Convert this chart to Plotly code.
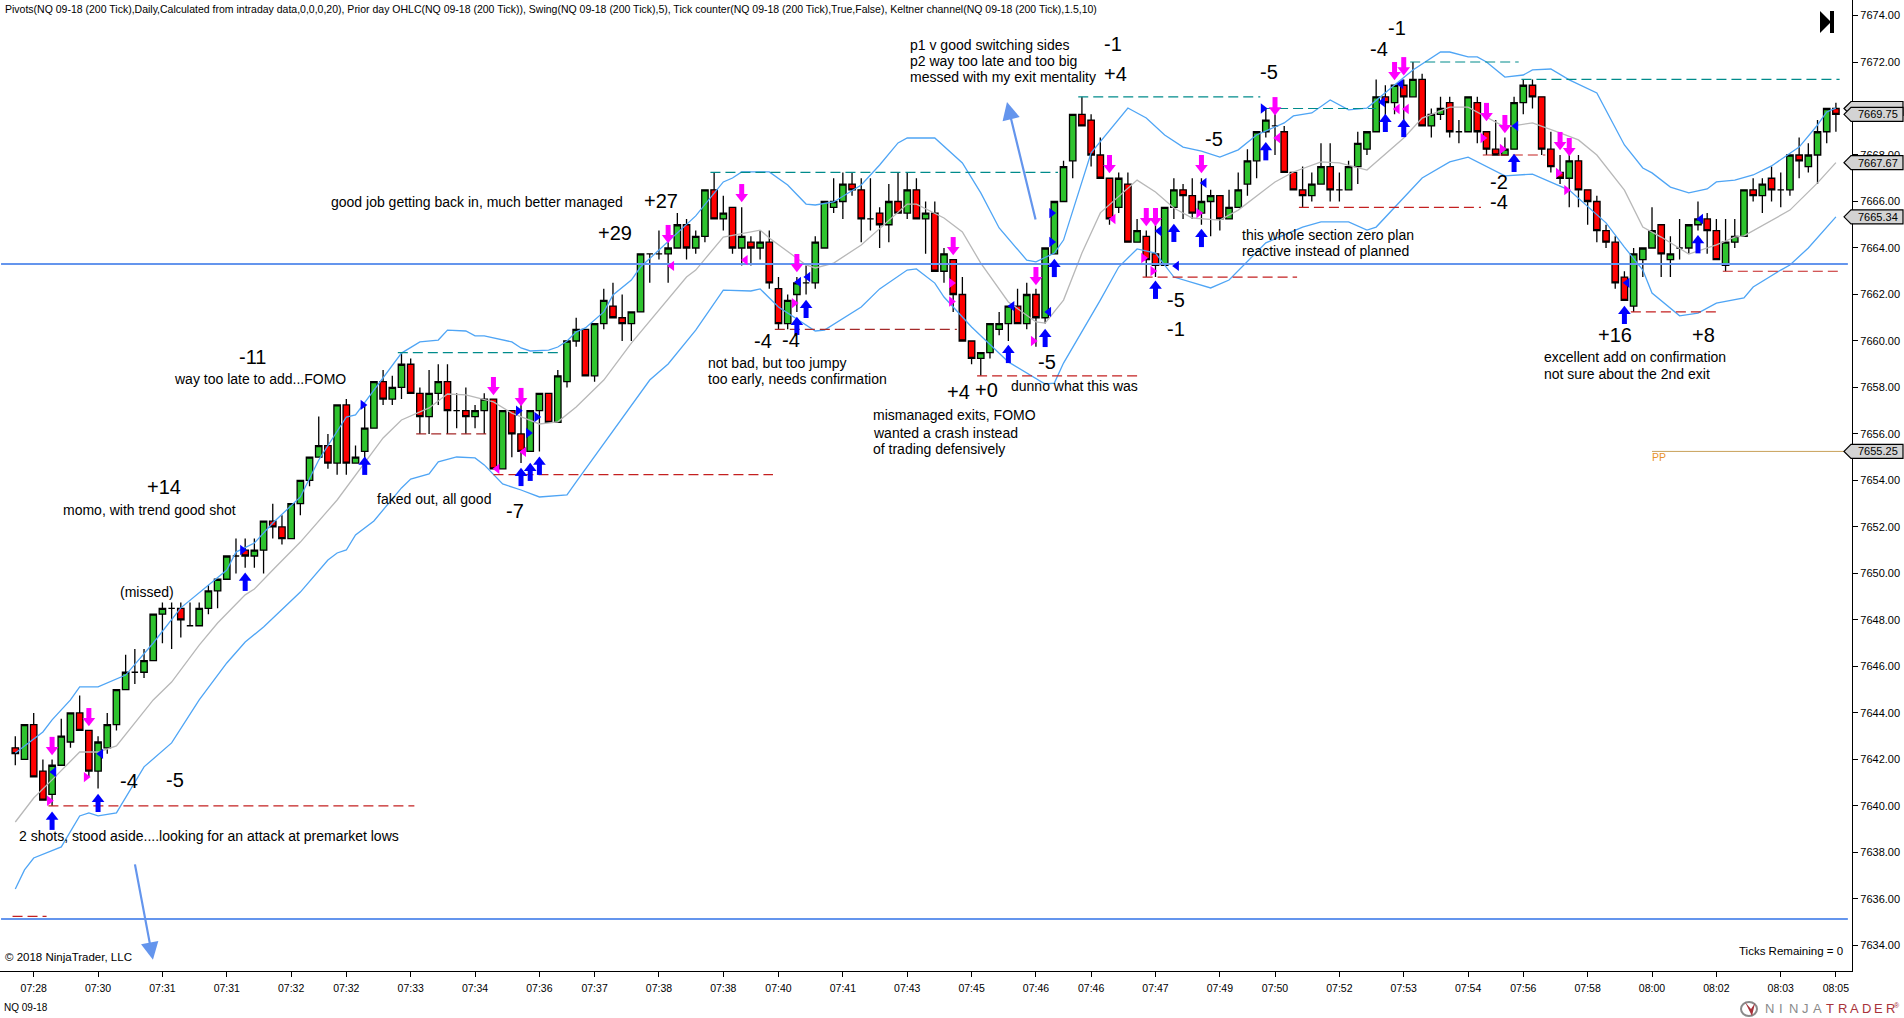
import plotly.graph_objects as go

# NQ 09-18 200 tick bars
opens = [7642.5, 7642, 7643.5, 7641.5, 7640.5, 7641.75, 7642.75, 7644, 7643.25, 7641.5,
         7642.5, 7643.5, 7645, 7645.75, 7645.75, 7646.25, 7648.25, 7648.5, 7648.5, 7647.75,
         7647.75, 7648.5, 7649.25, 7649.75, 7650.75, 7651, 7650.75, 7651, 7652.25, 7652,
         7651.5, 7653, 7654, 7655, 7655.5, 7654.75, 7657.25, 7654.75, 7655.25, 7656.25,
         7658.25, 7657.5, 7658, 7659, 7657.75, 7656.75, 7657.75, 7658.25, 7657, 7657,
         7656.75, 7657, 7657.5, 7654.5, 7657, 7656, 7655.25, 7657, 7657.75, 7656.5,
         7658.25, 7660, 7660.5, 7658.5, 7660.75, 7661.5, 7661, 7660.75, 7661.25, 7663.75,
         7663.75, 7663.75, 7664, 7665, 7664, 7664.5, 7666.5, 7665.25, 7665.75, 7664,
         7664.25, 7664, 7664.25, 7662.25, 7660.75, 7662, 7662.5, 7662.5, 7664, 7665.75,
         7666, 7666.75, 7666.5, 7665.25, 7665.5, 7665, 7666, 7665.5, 7666.5, 7665.25,
         7665.5, 7663, 7663.5, 7662, 7660, 7659.25, 7659.5, 7660.5, 7660.75, 7661.5,
         7660.75, 7662, 7661, 7663.75, 7666, 7667.75, 7669.75, 7669.5, 7668, 7667,
         7665.75, 7666.75, 7664.25, 7664.5, 7663.75, 7663.25, 7665.75, 7666.5, 7666.25, 7665.5,
         7666, 7666.25, 7665.25, 7665.75, 7666.75, 7667.75, 7669, 7669.25, 7669, 7667.25,
         7666.5, 7666.25, 7666.75, 7667.5, 7666.5, 7666.5, 7667.5, 7668.25, 7669, 7670.5,
         7670.25, 7671, 7670.5, 7671.25, 7669.25, 7669.75, 7670.25, 7669, 7669, 7670.25,
         7669, 7668.25, 7668, 7668.25, 7670.25, 7671, 7670.5, 7668.25, 7667.25, 7667,
         7667.75, 7666.5, 7666, 7664.75, 7664.25, 7662.75, 7661.5, 7663.5, 7664, 7665,
         7663.5, 7664, 7664, 7665, 7665.25, 7664.75, 7663.25, 7664.25, 7664.5, 7666.5,
         7666.25, 7667, 7666.5, 7666.5, 7668, 7667.5, 7668, 7669, 7670]
highs = [7643, 7643.5, 7644, 7642, 7642, 7643.75, 7644, 7644.75, 7643.25, 7643,
         7644, 7645, 7646.5, 7646.75, 7646.75, 7648.25, 7648.75, 7648.75, 7648.75, 7648.75,
         7648.75, 7649.5, 7649.75, 7650.75, 7651.5, 7651.5, 7651.5, 7652.25, 7653, 7652.5,
         7653, 7654, 7655, 7656.75, 7656, 7657.25, 7657.5, 7655.5, 7657.25, 7658.25,
         7658.75, 7658.5, 7659.5, 7659.25, 7658, 7658.75, 7659, 7659, 7657.75, 7658,
         7657.25, 7657.75, 7657.5, 7657, 7657, 7657.25, 7657, 7657.75, 7657.75, 7658.75,
         7660, 7661, 7660.5, 7660.75, 7662.25, 7662.5, 7662, 7661.25, 7663.75, 7663.75,
         7664.75, 7664.75, 7665.5, 7665.25, 7664.75, 7666.5, 7667.25, 7666.25, 7665.75, 7665.75,
         7664.5, 7664.75, 7664.75, 7662.75, 7662, 7662.75, 7663.25, 7664.5, 7666, 7667,
         7667.25, 7667.25, 7667, 7667, 7665.75, 7666.75, 7667.25, 7667.25, 7667, 7666,
         7666, 7664, 7663.5, 7662.75, 7660, 7659.5, 7660.75, 7661.25, 7661.5, 7662.25,
         7662.5, 7662.25, 7664, 7666, 7667.75, 7669.75, 7670.5, 7669.75, 7668.75, 7667,
         7667.25, 7667.25, 7665.25, 7664.75, 7665, 7665.75, 7667, 7666.75, 7667, 7667,
         7666.5, 7666.25, 7666.5, 7667.25, 7668.25, 7669, 7670, 7669.75, 7669.25, 7667.25,
         7667.5, 7667.25, 7668.5, 7668.5, 7667.25, 7667.75, 7669, 7669, 7671.25, 7671,
         7671, 7671.25, 7672, 7671.5, 7670, 7670.5, 7670.5, 7669.5, 7670.5, 7670.5,
         7669, 7669.5, 7668.75, 7670.5, 7671.25, 7671.25, 7670.5, 7669, 7668, 7668,
         7668, 7666.5, 7666.25, 7665, 7664.5, 7663, 7664, 7664, 7665.75, 7665,
         7664.5, 7665.25, 7665, 7666, 7665.5, 7665.25, 7665.25, 7665.25, 7666.5, 7667,
         7667, 7667.5, 7667.25, 7668, 7668.75, 7668.5, 7669.5, 7670, 7670.25]
lows = [7641.75, 7642, 7641.25, 7640.25, 7640, 7641.75, 7642.5, 7643.25, 7641.25, 7640.75,
        7642.25, 7643.25, 7645, 7645.25, 7645.5, 7646.25, 7647, 7646.75, 7647.25, 7647.75,
        7647.75, 7648.25, 7648.5, 7649.75, 7650, 7650.25, 7650.25, 7650, 7651.5, 7651.25,
        7651.5, 7652.5, 7653.75, 7655, 7654.5, 7654.25, 7654.25, 7654.75, 7654.75, 7656.25,
        7657.25, 7657.25, 7657.5, 7657.75, 7656, 7656, 7657.25, 7656, 7656.25, 7656,
        7656.25, 7656, 7654.5, 7654.5, 7655, 7654.75, 7655.25, 7655.25, 7656.5, 7656.5,
        7658, 7659.75, 7658.5, 7658.25, 7660.5, 7661, 7660, 7660, 7661.25, 7662.5,
        7663.5, 7662.5, 7664, 7663.5, 7663.75, 7664.25, 7665.25, 7664.75, 7663.75, 7663.25,
        7663.25, 7663.5, 7662.25, 7660.5, 7660.5, 7661.25, 7662, 7662.25, 7664, 7665.5,
        7665.25, 7666.25, 7664.25, 7664.75, 7664, 7664.25, 7665.5, 7665.25, 7665.25, 7663.75,
        7663, 7662.5, 7661.25, 7660, 7659, 7658.5, 7659.25, 7660.25, 7660, 7660.75,
        7660.5, 7659.75, 7660.75, 7663.75, 7666, 7667, 7669.25, 7667.5, 7667, 7665,
        7665.5, 7664.25, 7664.25, 7662.75, 7662.75, 7663.25, 7665.25, 7665.25, 7665.25, 7665,
        7664.5, 7664.75, 7665.25, 7665.75, 7666.25, 7667, 7668.75, 7668, 7667.25, 7666.5,
        7665.75, 7666, 7666.75, 7666, 7666, 7666.5, 7666.75, 7668, 7669, 7669.5,
        7669.75, 7669.5, 7670.5, 7669.25, 7668.75, 7669.5, 7668.75, 7668.5, 7669, 7668.5,
        7668, 7668, 7668, 7668.25, 7669.75, 7670, 7668, 7667.25, 7666.75, 7665.75,
        7665.75, 7665, 7664.25, 7664, 7662.25, 7661.75, 7661.25, 7662.75, 7664, 7662.75,
        7662.75, 7663.5, 7663.75, 7664.75, 7663.75, 7663.5, 7663, 7664, 7664.5, 7666,
        7665.5, 7666, 7665.75, 7666.25, 7667, 7667.25, 7666.75, 7668.5, 7669]
closes = [7642.25, 7643.5, 7641.25, 7640.25, 7641.75, 7643, 7644, 7643.25, 7641.5, 7642.75,
          7643.5, 7645, 7645.75, 7645.75, 7646.25, 7648.25, 7648.5, 7648.5, 7648, 7647.75,
          7648.5, 7649.25, 7649.75, 7650.75, 7650.75, 7650.75, 7651, 7652.25, 7652, 7651.5,
          7653, 7654, 7655, 7655.5, 7654.75, 7657.25, 7654.75, 7655, 7656.25, 7658.25,
          7657.5, 7658, 7659, 7657.75, 7656.75, 7657.75, 7658.25, 7657, 7657, 7656.75,
          7657, 7657.5, 7654.5, 7657, 7656, 7655.25, 7657, 7657.75, 7656.5, 7658.5,
          7660, 7660.5, 7658.5, 7660.75, 7661.75, 7661, 7660.75, 7661.25, 7663.75, 7663.75,
          7663.75, 7664, 7665, 7664, 7664.5, 7666.5, 7665.25, 7665.5, 7664, 7664.5,
          7664, 7664.25, 7662.5, 7660.75, 7661.75, 7662.5, 7662.5, 7664.25, 7666, 7666,
          7666.75, 7666.5, 7665.25, 7665.25, 7665, 7666, 7665.5, 7666.5, 7665.25, 7665.5,
          7663, 7663.75, 7662, 7660, 7659.25, 7659.5, 7660.75, 7660.75, 7661.5, 7660.75,
          7662, 7661, 7664, 7666, 7667.5, 7669.75, 7669.25, 7668, 7667, 7665.25,
          7667, 7664.25, 7664.75, 7663.5, 7663.25, 7665.75, 7666.5, 7666.25, 7665.5, 7666,
          7666.25, 7665.25, 7665.75, 7666.5, 7667.75, 7669, 7669.5, 7669.25, 7667.25, 7666.5,
          7666.25, 7666.75, 7667.5, 7666.5, 7666.5, 7667.5, 7668.5, 7669, 7670.5, 7670.25,
          7671, 7670.5, 7671.25, 7669.25, 7669.75, 7670, 7669, 7669, 7670.5, 7669,
          7668.25, 7668, 7668.25, 7670.25, 7671, 7670.5, 7668.25, 7667.5, 7667, 7667.75,
          7666.5, 7666, 7664.75, 7664.25, 7662.5, 7661.75, 7663.75, 7664, 7664.75, 7663.75,
          7663.75, 7664, 7665, 7665.25, 7664.75, 7663.5, 7664.25, 7664.5, 7666.5, 7666.25,
          7666.75, 7666.5, 7666.5, 7668, 7667.75, 7668, 7669, 7670, 7669.75]

# Keltner channel
kelt_up_i = [0, 3, 4, 6, 7, 9, 12, 15, 18, 23, 24, 26, 28, 31, 33, 36, 37, 39, 40, 42, 44, 46, 47, 49, 50, 51, 54, 55, 56, 58, 59, 60, 61, 62, 64, 65, 67, 68, 74, 76, 77, 78, 79, 82, 84, 86, 87, 89, 92, 94, 96, 97, 100, 103, 105, 107, 110, 111, 113, 114, 117, 121, 123, 125, 127, 129, 131, 133, 135, 138, 139, 141, 143, 145, 147, 150, 152, 155, 156, 158, 159, 160, 162, 164, 165, 167, 169, 172, 173, 175, 177, 178, 180, 182, 184, 185, 187, 189, 191, 194, 196, 197, 198]
kelt_up = [7642.28, 7643.18, 7643.7, 7644.56, 7645.12, 7645.12, 7645.63, 7647.01, 7648.52, 7650.15, 7650.92, 7651.31, 7652.17, 7653.29, 7654.88, 7656.73, 7656.82, 7657.89, 7658.41, 7659.48, 7659.96, 7660.04, 7660.47, 7660.43, 7660.22, 7660.22, 7659.96, 7659.7, 7659.57, 7659.61, 7659.74, 7660.0, 7660.39, 7660.56, 7661.25, 7661.98, 7662.62, 7663.18, 7665.38, 7666.37, 7666.84, 7667.01, 7667.27, 7667.27, 7666.71, 7665.89, 7665.85, 7665.98, 7666.71, 7667.57, 7668.52, 7668.73, 7668.73, 7667.66, 7666.37, 7664.86, 7663.48, 7663.4, 7663.78, 7664.34, 7668.09, 7670.02, 7669.59, 7668.86, 7668.34, 7668.17, 7667.91, 7668.22, 7668.86, 7669.38, 7669.68, 7669.81, 7670.37, 7669.94, 7670.02, 7671.01, 7671.66, 7672.43, 7672.43, 7672.22, 7672.22, 7672.0, 7671.35, 7671.44, 7671.66, 7671.7, 7671.23, 7670.67, 7669.94, 7668.43, 7667.44, 7667.23, 7666.62, 7666.37, 7666.54, 7666.84, 7666.92, 7667.14, 7667.53, 7668.34, 7669.29, 7669.85, 7670.02]
kelt_mid_i = [0, 2, 4, 7, 9, 11, 15, 17, 20, 22, 25, 26, 28, 31, 35, 38, 40, 42, 45, 47, 49, 52, 54, 57, 59, 61, 64, 67, 70, 71, 73, 74, 77, 81, 82, 86, 87, 89, 92, 97, 98, 101, 103, 105, 108, 111, 112, 114, 116, 118, 122, 124, 126, 128, 131, 133, 137, 139, 142, 144, 147, 151, 153, 156, 158, 162, 165, 168, 170, 172, 175, 177, 179, 182, 185, 187, 188, 193, 196, 198]
kelt_mid = [7639.31, 7640.34, 7641.12, 7642.32, 7642.32, 7642.58, 7644.56, 7645.33, 7646.92, 7647.87, 7649.08, 7649.33, 7650.15, 7651.35, 7653.16, 7654.75, 7655.83, 7656.6, 7657.12, 7657.72, 7657.68, 7657.38, 7656.9, 7656.43, 7656.52, 7657.16, 7658.32, 7659.91, 7661.33, 7661.76, 7662.75, 7663.05, 7664.47, 7664.77, 7664.43, 7663.27, 7663.14, 7663.35, 7664.13, 7665.89, 7665.89, 7665.29, 7664.69, 7663.35, 7661.68, 7660.82, 7660.77, 7661.76, 7663.78, 7665.51, 7666.92, 7666.41, 7665.72, 7665.29, 7665.2, 7665.63, 7666.84, 7667.27, 7667.7, 7667.66, 7667.35, 7668.73, 7669.59, 7670.06, 7670.06, 7669.2, 7669.38, 7668.95, 7668.65, 7668.0, 7666.49, 7664.9, 7664.47, 7663.74, 7664.13, 7664.47, 7664.52, 7665.63, 7666.8, 7667.67]
kelt_lo_i = [0, 1, 2, 5, 7, 8, 9, 11, 14, 17, 20, 23, 25, 27, 31, 34, 35, 36, 37, 39, 42, 43, 45, 46, 48, 50, 51, 53, 55, 57, 60, 61, 69, 71, 74, 77, 80, 81, 83, 87, 88, 92, 94, 97, 98, 100, 101, 104, 108, 110, 112, 113, 114, 118, 120, 122, 124, 126, 130, 132, 134, 136, 140, 142, 145, 147, 148, 153, 156, 158, 162, 165, 169, 173, 175, 177, 178, 181, 183, 185, 188, 189, 192, 193, 195, 198]
kelt_lo = [7636.43, 7637.25, 7637.76, 7638.24, 7639.57, 7639.7, 7639.57, 7639.7, 7641.68, 7642.71, 7644.56, 7646.15, 7647.05, 7647.7, 7649.2, 7650.58, 7650.88, 7651.01, 7651.66, 7652.26, 7653.68, 7654.06, 7654.28, 7654.8, 7655.01, 7654.97, 7654.67, 7653.85, 7653.59, 7653.29, 7653.38, 7653.94, 7658.32, 7659.01, 7660.47, 7662.19, 7662.15, 7662.24, 7661.46, 7660.43, 7660.47, 7661.46, 7662.24, 7663.05, 7663.1, 7662.49, 7661.89, 7660.6, 7659.1, 7658.62, 7658.15, 7658.19, 7659.05, 7661.76, 7663.18, 7663.96, 7663.78, 7662.75, 7662.28, 7662.62, 7663.4, 7664.22, 7664.9, 7665.12, 7665.12, 7664.77, 7664.9, 7667.01, 7667.7, 7667.91, 7667.1, 7667.18, 7666.49, 7665.08, 7664.04, 7663.05, 7662.06, 7661.08, 7661.2, 7661.63, 7661.85, 7662.32, 7663.05, 7663.27, 7664.0, 7665.34]

# Swing highs / lows (price, first bar, last bar)
swing_hi_price = [7659.5, 7667.25, 7670.5, 7670, 7672, 7671.25]
swing_hi_from = [41.6, 75.6, 115.6, 135.7, 151.7, 163.8]
swing_hi_to = [59.4, 113.4, 135.4, 148, 163.5, 198.4]
swing_lo_price = [7635.25, 7640, 7656, 7654.25, 7660.5, 7658.5, 7662.75, 7665.75, 7668, 7661.25, 7663]
swing_lo_from = [-0.3, 3.6, 43.6, 52, 82.6, 104.6, 122.6, 139.6, 159.6, 175.7, 185.7]
swing_lo_to = [3.4, 43.4, 51.4, 82.4, 102.4, 122.4, 139.4, 159.4, 166.4, 185.4, 198.3]

# Prior day / pivot levels
prior_levels = [7663.31, 7635.14]
pp_level = 7655.25

# Trade markers
buy_i = [4, 9, 25, 38, 55, 56, 57, 85, 86, 108, 112, 113, 124, 126, 129, 136, 149, 151, 163, 175, 183]
buy_p = [7639.4, 7640.17, 7649.68, 7654.67, 7654.19, 7654.41, 7654.67, 7660.69, 7661.42, 7659.48, 7660.17, 7663.18, 7662.24, 7664.69, 7664.47, 7668.2, 7669.42, 7669.2, 7667.7, 7661.16, 7664.2]
sell_i = [4, 8, 52, 55, 71, 79, 85, 102, 111, 119, 123, 124, 129, 137, 150, 151, 160, 162, 168, 169]
sell_p = [7642.54, 7643.78, 7658.02, 7657.55, 7664.56, 7666.32, 7663.31, 7664.04, 7662.75, 7667.57, 7665.29, 7665.29, 7667.57, 7670.06, 7671.57, 7671.78, 7669.81, 7669.29, 7668.56, 7668.3]
blue_right_i = [24.7, 37.8, 54.7, 55.8, 56.7, 112.7, 112.7, 135.7]
blue_right_p = [7651.01, 7657.25, 7657, 7656.04, 7656.73, 7665.5, 7664.26, 7670]
blue_left_i = [4.2, 9.3, 85.2, 86.2, 108.4, 112.4, 124.4, 126.3, 129.3, 148.7, 150.7, 163.2, 175.3, 183.3]
blue_left_p = [7641.46, 7642.24, 7662.54, 7662.75, 7661.5, 7661.25, 7664.73, 7663.23, 7666.8, 7670.28, 7671.05, 7669.25, 7662.5, 7665.25]
mag_right_i = [3.7, 7.7, 84.7, 101.8, 101.8, 110.7, 122.7, 123.7, 128.7, 159.6, 161.7, 167.8, 168.7]
mag_right_p = [7640.22, 7641.24, 7661.63, 7662.49, 7661.7, 7660, 7663.57, 7663.01, 7665.5, 7668.73, 7668.26, 7667.23, 7666.49]
mag_left_i = [52.4, 55.3, 71.4, 79.4, 119.4, 137.3, 150.3, 151.3]
mag_left_p = [7654.5, 7655.23, 7663.23, 7663.48, 7665.25, 7668.73, 7669.98, 7669.98]

# Axis labels, 7670.00 sits behind the last price flag
price_ticks = [7634, 7636, 7638, 7640, 7642, 7644, 7646, 7648, 7650, 7652, 7654, 7656, 7658, 7660, 7662, 7664, 7666, 7668, 7670, 7672, 7674]
price_tick_labels = ["7634.00", "7636.00", "7638.00", "7640.00", "7642.00", "7644.00", "7646.00", "7648.00", "7650.00", "7652.00", "7654.00",
                     "7656.00", "7658.00", "7660.00", "7662.00", "7664.00", "7666.00", "7668.00", "", "7672.00", "7674.00"]
time_tick_i = [2, 9, 16, 23, 30, 36, 43, 50, 57, 63, 70, 77, 83, 90, 97, 104, 111, 117, 124, 131, 137, 144, 151, 158, 164, 171, 178, 185, 192, 198]
time_labels = ["07:28", "07:30", "07:31", "07:31", "07:32", "07:32", "07:33", "07:34", "07:36", "07:37",
               "07:38", "07:38", "07:40", "07:41", "07:43", "07:45", "07:46", "07:46", "07:47", "07:49",
               "07:50", "07:52", "07:53", "07:54", "07:56", "07:58", "08:00", "08:02", "08:03", "08:05"]
hidden_flag = 7670.0
flag_prices = [7669.75, 7667.67, 7665.34, 7655.25]
flag_labels = ["7669.75", "7667.67", "7665.34", "7655.25"]

# Notes drawn on the chart
small_notes = [
    ("p1 v good switching sides", 910, 46), ("p2 way too late and too big", 910, 62),
    ("messed with my exit mentality", 910, 78), ("this whole section zero plan", 1242, 236),
    ("reactive instead of planned", 1242, 252), ("excellent add on confirmation", 1544, 358),
    ("not sure about the 2nd exit", 1544, 375), ("dunno what this was", 1011, 387),
    ("mismanaged exits, FOMO", 873, 416), ("wanted a crash instead", 873, 434),
    ("of trading defensively", 873, 450), ("not bad, but too jumpy", 708, 364),
    ("too early, needs confirmation", 708, 380), ("good job getting back in, much better managed", 331, 203),
    ("way too late to add...FOMO", 174, 380), ("momo, with trend good shot", 63, 511),
    ("(missed)", 120, 593), ("faked out, all good", 377, 500),
    ("2 shots, stood aside....looking for an attack at premarket lows", 19, 837),
]
big_notes = [
    ("-1", 1104, 45), ("+4", 1104, 75), ("-5", 1260, 73), ("-5", 1205, 140), ("-1", 1388, 29),
    ("-4", 1370, 50), ("-2", 1490, 183), ("-4", 1490, 203), ("+16", 1598, 336), ("+8", 1692, 336),
    ("-5", 1038, 363), ("-5", 1167, 301), ("-1", 1167, 330), ("+4", 947, 393), ("+0", 975, 391),
    ("-4", 754, 342), ("-4", 782, 341), ("+27", 644, 202), ("+29", 598, 234), ("-11", 239, 358),
    ("+14", 147, 488), ("-7", 506, 512), ("-4", 120, 782), ("-5", 166, 781),
]

legend_line = ("Pivots(NQ 09-18 (200 Tick),Daily,Calculated from intraday data,0,0,0,20), "
               "Prior day OHLC(NQ 09-18 (200 Tick)), Swing(NQ 09-18 (200 Tick),5), "
               "Tick counter(NQ 09-18 (200 Tick),True,False), Keltner channel(NQ 09-18 (200 Tick),1.5,10)")

W, H = 1904, 1018
PLOT_W, PLOT_H = 1852, 971
FONT = "Liberation Sans"


def px(x):
    return x / PLOT_W


def py(y):
    return 1 - y / PLOT_H


def note(text, x, y, size=14, color="black", anchor="left"):
    return dict(text=text, x=px(x), y=py(y), xref="paper", yref="paper", showarrow=False,
                xanchor=anchor, yanchor="middle", borderpad=0, xshift=-1, yshift=1,
                font=dict(family=FONT, size=size, color=color))


bars = list(range(len(opens)))
fig = go.Figure()

fig.add_trace(go.Candlestick(
    x=bars, open=opens, high=highs, low=lows, close=closes, whiskerwidth=0, hoverinfo="skip",
    increasing=dict(fillcolor="#2EC32E", line=dict(color="black", width=1.3)),
    decreasing=dict(fillcolor="#FF0000", line=dict(color="black", width=1.3)),
))

for xs, ys, col in [(kelt_up_i, kelt_up, "#4FA5F5"), (kelt_mid_i, kelt_mid, "#B8B8B8"), (kelt_lo_i, kelt_lo, "#4FA5F5")]:
    fig.add_trace(go.Scatter(x=xs, y=ys, mode="lines", line=dict(color=col, width=1.3), hoverinfo="skip"))

for price, x0, x1 in zip(swing_hi_price, swing_hi_from, swing_hi_to):
    fig.add_trace(go.Scatter(x=[x0, x1], y=[price, price], mode="lines", hoverinfo="skip",
                             line=dict(color="#008B8B", width=1.2, dash="10px,5px")))
for price, x0, x1 in zip(swing_lo_price, swing_lo_from, swing_lo_to):
    # the two mid-session lows read a darker brown on the original
    col = "#A52A2A" if price in (7656, 7660.5) else "#C42020"
    fig.add_trace(go.Scatter(x=[x0, x1], y=[price, price], mode="lines", hoverinfo="skip",
                             line=dict(color=col, width=1.2, dash="10px,5px")))

for price in prior_levels:
    fig.add_trace(go.Scatter(x=[-1.55, 199.3], y=[price, price], mode="lines", hoverinfo="skip",
                             line=dict(color="#6495ED", width=2)))
fig.add_trace(go.Scatter(x=[178, 199.75], y=[pp_level, pp_level], mode="lines", hoverinfo="skip",
                         line=dict(color="#C9A15A", width=1)))

# arrows are a triangle head plus a thick stem
fig.add_trace(go.Scatter(x=buy_i, y=[p - 0.16 for p in buy_p], mode="markers", hoverinfo="skip",
                         marker=dict(symbol="line-ns", size=9, line=dict(color="#0000FF", width=5))))
fig.add_trace(go.Scatter(x=buy_i, y=[p + 0.12 for p in buy_p], mode="markers", hoverinfo="skip",
                         marker=dict(symbol="triangle-up", size=11, color="#0000FF", line=dict(width=0))))
fig.add_trace(go.Scatter(x=sell_i, y=[p + 0.16 for p in sell_p], mode="markers", hoverinfo="skip",
                         marker=dict(symbol="line-ns", size=9, line=dict(color="#FF00FF", width=5))))
fig.add_trace(go.Scatter(x=sell_i, y=[p - 0.12 for p in sell_p], mode="markers", hoverinfo="skip",
                         marker=dict(symbol="triangle-down", size=11, color="#FF00FF", line=dict(width=0))))
for xs, ys, sym, col in [(blue_right_i, blue_right_p, "triangle-right", "#0000FF"),
                         (blue_left_i, blue_left_p, "triangle-left", "#0000FF"),
                         (mag_right_i, mag_right_p, "triangle-right", "#FF00FF"),
                         (mag_left_i, mag_left_p, "triangle-left", "#FF00FF")]:
    fig.add_trace(go.Scatter(x=xs, y=ys, mode="markers", hoverinfo="skip",
                             marker=dict(symbol=sym, size=9, color=col, line=dict(width=0))))

annotations = [note(t, x, y) for t, x, y in small_notes]
annotations += [note(t, x, y, size=20) for t, x, y in big_notes]
annotations += [
    note(legend_line, 5, 10, size=10.5),
    note("\u00a9 2018 NinjaTrader, LLC", 5, 958, size=11.5),
    note("NQ 09-18", 4, 1008, size=10),
    note("Ticks Remaining = 0", 1739, 952, size=11.5),
    note("PP", 1652, 458, size=10.5, color="#E8922A"),
]

# drawn arrows
for x0, y0, x1, y1 in [(12.98, 7637.55, 14.97, 7633.38), (111.0, 7665.16, 107.85, 7670.28)]:
    annotations.append(dict(x=x1, y=y1, ax=x0, ay=y0, xref="x", yref="y", axref="x", ayref="y", text="",
                            showarrow=True, arrowhead=2, arrowsize=1.6, arrowwidth=2.2, arrowcolor="#6495ED"))

# price flags on the axis, the first one sits behind the last price
shapes = []
for price in [hidden_flag] + flag_prices:
    shapes.append(dict(type="path", xref="paper", yref="y", xsizemode="pixel", ysizemode="pixel",
                       xanchor=1, yanchor=price, layer="above", fillcolor="#D3D3D3",
                       line=dict(color="black", width=1.2),
                       path="M -8,0 L -1,7 L 51,7 L 51,-7 L -1,-7 Z"))
for price, label in zip(flag_prices, flag_labels):
    annotations.append(dict(text=label, x=px(1878), y=price, xref="paper", yref="y", showarrow=False,
                            xanchor="center", yanchor="middle", font=dict(family=FONT, size=11, color="black")))

# skip-to-end button, top right
shapes.append(dict(type="path", xref="paper", yref="paper", fillcolor="black", line=dict(width=0),
                   path=f"M {px(1820)},{py(11)} L {px(1831)},{py(22)} L {px(1820)},{py(33)} Z"))
shapes.append(dict(type="rect", xref="paper", yref="paper", fillcolor="black", line=dict(width=0),
                   x0=px(1830), x1=px(1834), y0=py(11), y1=py(33)))

# logo, bottom right
shapes.append(dict(type="circle", xref="paper", yref="paper", line=dict(color="#8A8A8A", width=2),
                   x0=px(1741), x1=px(1757), y0=py(1002), y1=py(1016)))
shapes.append(dict(type="path", xref="paper", yref="paper", fillcolor="#A8323A", line=dict(width=0),
                   path=f"M {px(1745)},{py(1002)} L {px(1752)},{py(1016)} L {px(1755)},{py(1003)} L {px(1751)},{py(1009)} Z"))
for k, ch in enumerate("NINJATRADER"):
    col = "#8A8A8A" if k < 5 else "#A8323A"
    annotations.append(note(ch, 1770 + k * 12.2, 1009, size=13, color=col, anchor="center"))
annotations.append(note("\u00ae", 1898, 1006, size=7, color="#A8323A", anchor="center"))

fig.update_layout(
    width=W, height=H, margin=dict(l=0, r=W - PLOT_W, t=0, b=H - PLOT_H), autosize=False,
    paper_bgcolor="white", plot_bgcolor="white", showlegend=False, hovermode=False, boxgap=0.0,
    font=dict(family=FONT, size=11, color="black"),
    annotations=annotations, shapes=shapes,
    xaxis=dict(range=[-1.664, 199.75], rangeslider=dict(visible=False), showgrid=False, zeroline=False,
               tickmode="array", tickvals=time_tick_i, ticktext=time_labels, ticks="outside", ticklen=5,
               tickcolor="black", tickwidth=1, showline=True, linecolor="black", linewidth=1.2,
               ticklabelstandoff=2, tickfont=dict(family=FONT, size=10.5)),
    yaxis=dict(range=[7632.9, 7674.667], side="right", showgrid=False, zeroline=False,
               tickmode="array", tickvals=price_ticks, ticktext=price_tick_labels,
               ticks="outside", ticklen=5, tickcolor="black", tickwidth=1, showline=True,
               linecolor="black", linewidth=1.2, tickfont=dict(family=FONT, size=11)),
)

fig.write_html("out.html", config={"displayModeBar": False},
               post_script="document.body.style.margin='0';document.body.style.overflow='hidden';")
